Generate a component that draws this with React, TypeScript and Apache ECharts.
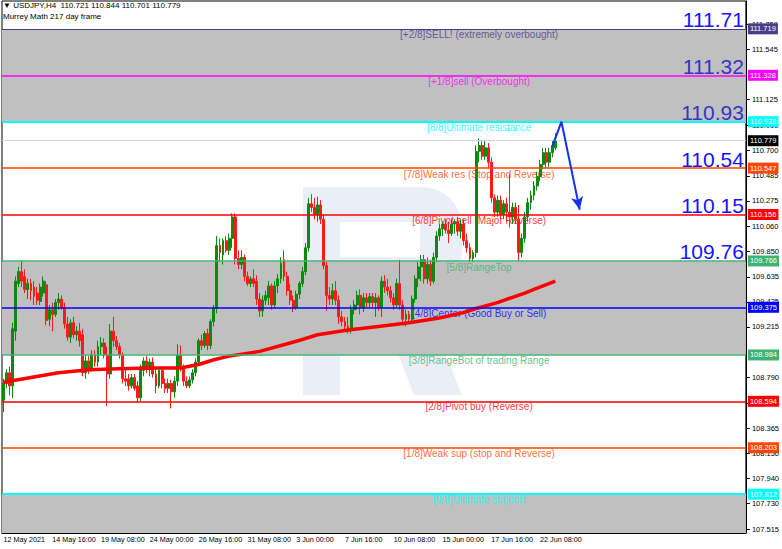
import React, { useEffect, useRef } from "react";
import * as echarts from "echarts";

// ---------- data ----------
const xTickLabels = [
  "12 May 2021", "14 May 16:00", "19 May 08:00", "24 May 00:00", "26 May 16:00", "31 May 08:00",
  "3 Jun 00:00", "7 Jun 16:00", "10 Jun 08:00", "15 Jun 00:00", "17 Jun 16:00", "22 Jun 08:00",
];
const BARS_PER_TICK = 16;
const SLOT_COUNT = 244;

const yTickValues = [
  111.759, 111.545, 111.125, 110.91, 110.7, 110.485, 110.275, 110.06, 109.85, 109.635,
  109.425, 109.215, 108.79, 108.575, 108.365, 108.15, 107.94, 107.73, 107.515,
];
const Y_MIN = 107.484;
const Y_MAX = 111.954;

// open, high, low, close
const candlesOHLC: number[][] = [
  [108.60,108.78,108.50,108.74],[108.74,108.86,108.70,108.83],[108.83,108.88,108.64,108.72],[108.72,109.25,108.62,109.20],
  [109.18,109.64,109.10,109.60],[109.58,109.72,109.55,109.68],[109.68,109.77,109.55,109.60],[109.64,109.70,109.50,109.53],
  [109.53,109.62,109.45,109.58],[109.58,109.62,109.44,109.52],[109.55,109.60,109.40,109.47],[109.50,109.55,109.40,109.44],
  [109.43,109.58,109.40,109.55],[109.50,109.64,109.47,109.60],[109.57,109.60,109.23,109.27],[109.28,109.40,109.22,109.36],
  [109.36,109.42,109.18,109.32],[109.32,109.45,109.30,109.42],[109.42,109.50,109.36,109.45],[109.45,109.48,109.36,109.38],
  [109.38,109.42,109.20,109.24],[109.24,109.30,109.10,109.13],[109.13,109.28,109.08,109.25],[109.25,109.30,109.12,109.15],
  [109.15,109.22,109.10,109.18],[109.18,109.25,109.05,109.10],[109.15,109.20,108.80,108.83],[108.83,108.98,108.78,108.93],
  [108.93,108.97,108.82,108.86],[108.86,109.02,108.84,108.98],[108.98,109.02,108.88,108.92],[108.92,109.10,108.88,109.05],
  [109.05,109.13,108.98,109.08],[109.08,109.12,108.95,108.98],[108.98,109.05,108.55,108.82],[108.82,109.24,108.78,109.18],
  [109.18,109.30,109.05,109.10],[109.10,109.14,109.02,109.05],[109.05,109.08,108.95,108.98],[108.98,109.00,108.74,108.78],
  [108.78,108.86,108.72,108.76],[108.78,108.82,108.68,108.72],[108.72,108.82,108.70,108.79],[108.79,108.82,108.68,108.70],
  [108.72,108.76,108.58,108.62],[108.62,108.90,108.59,108.88],[108.85,108.96,108.80,108.93],[108.93,108.97,108.83,108.86],
  [108.86,108.95,108.80,108.92],[108.92,108.96,108.79,108.82],[108.82,108.86,108.66,108.72],[108.72,108.88,108.70,108.85],
  [108.85,108.87,108.70,108.74],[108.74,108.78,108.66,108.70],[108.70,108.78,108.66,108.74],[108.74,108.77,108.53,108.67],
  [108.67,108.80,108.62,108.76],[108.76,109.07,108.72,108.98],[108.98,109.06,108.84,108.88],[108.88,108.90,108.72,108.76],
  [108.76,108.80,108.70,108.72],[108.72,108.80,108.70,108.77],[108.77,108.86,108.74,108.83],[108.83,108.95,108.80,108.92],
  [108.92,109.12,108.90,109.10],[109.10,109.15,109.02,109.06],[109.06,109.18,109.04,109.16],[109.16,109.20,109.02,109.06],
  [109.06,109.28,109.03,109.26],[109.26,109.40,109.22,109.37],[109.37,109.98,109.33,109.90],[109.90,109.96,109.76,109.84],
  [109.82,109.96,109.74,109.94],[109.94,109.98,109.84,109.86],[109.86,110.00,109.82,109.96],[109.96,110.17,109.88,110.14],
  [110.14,110.17,109.74,109.79],[109.79,109.86,109.70,109.74],[109.74,109.86,109.70,109.80],[109.80,109.82,109.60,109.64],
  [109.64,109.68,109.56,109.58],[109.58,109.64,109.55,109.62],[109.62,109.70,109.55,109.58],[109.60,109.65,109.40,109.45],
  [109.45,109.50,109.30,109.35],[109.35,109.48,109.30,109.44],[109.44,109.52,109.40,109.48],[109.46,109.60,109.40,109.56],
  [109.56,109.58,109.36,109.40],[109.40,109.60,109.38,109.56],[109.56,109.66,109.50,109.62],[109.62,109.80,109.58,109.75],
  [109.78,109.86,109.60,109.64],[109.64,109.68,109.48,109.52],[109.52,109.58,109.40,109.44],[109.44,109.48,109.34,109.38],
  [109.38,109.52,109.36,109.49],[109.49,109.60,109.45,109.58],[109.58,109.72,109.55,109.68],[109.68,109.92,109.65,109.88],
  [109.88,110.30,109.85,110.25],[110.25,110.33,110.18,110.22],[110.22,110.30,110.12,110.16],[110.16,110.31,110.10,110.24],
  [110.24,110.28,110.08,110.12],[110.12,110.16,109.70,109.73],[109.73,109.76,109.35,109.48],[109.48,109.55,109.40,109.45],
  [109.45,109.58,109.40,109.52],[109.52,109.60,109.40,109.44],[109.44,109.48,109.24,109.30],[109.30,109.35,109.22,109.26],
  [109.26,109.30,109.18,109.22],[109.22,109.30,109.16,109.20],[109.20,109.40,109.16,109.36],[109.36,109.44,109.32,109.40],
  [109.40,109.52,109.36,109.48],[109.48,109.53,109.32,109.38],[109.38,109.50,109.34,109.46],[109.46,109.50,109.38,109.42],
  [109.42,109.50,109.38,109.47],[109.47,109.50,109.38,109.42],[109.42,109.50,109.30,109.46],[109.46,109.48,109.35,109.38],
  [109.38,109.64,109.30,109.60],[109.60,109.65,109.50,109.55],[109.55,109.62,109.48,109.52],[109.52,109.56,109.42,109.46],
  [109.46,109.50,109.36,109.40],[109.40,109.62,109.38,109.58],[109.58,109.78,109.36,109.40],[109.40,109.44,109.24,109.28],
  [109.28,109.36,109.22,109.32],[109.32,109.35,109.24,109.28],[109.28,109.48,109.26,109.45],[109.45,109.65,109.42,109.62],
  [109.62,109.76,109.55,109.72],[109.72,109.82,109.60,109.78],[109.78,109.82,109.58,109.62],[109.62,109.80,109.58,109.74],
  [109.74,109.78,109.56,109.60],[109.60,109.84,109.58,109.80],[109.80,110.02,109.76,109.98],[109.98,110.08,109.94,110.04],
  [110.04,110.10,109.98,110.08],[110.08,110.12,110.00,110.03],[110.03,110.10,109.92,110.00],[110.00,110.12,109.98,110.08],
  [110.08,110.12,110.00,110.10],[110.10,110.14,109.98,110.02],[110.02,110.12,109.96,110.08],[110.08,110.12,109.90,109.94],
  [109.94,110.00,109.84,109.88],[109.88,109.92,109.76,109.79],[109.79,109.86,109.76,109.84],[109.84,110.74,109.80,110.69],
  [110.69,110.80,110.60,110.74],[110.74,110.78,110.62,110.65],[110.65,110.78,110.62,110.72],[110.72,110.76,110.55,110.60],
  [110.60,110.64,110.26,110.30],[110.30,110.33,110.14,110.18],[110.18,110.32,110.14,110.28],[110.28,110.32,110.12,110.16],
  [110.16,110.28,110.12,110.25],[110.25,110.30,110.10,110.18],[110.18,110.50,110.05,110.14],[110.14,110.26,110.08,110.22],
  [110.22,110.26,110.08,110.12],[110.12,110.24,109.77,109.84],[109.84,110.00,109.80,109.96],[109.96,110.18,109.92,110.14],
  [110.14,110.30,110.10,110.26],[110.26,110.36,110.20,110.32],[110.32,110.44,110.28,110.40],[110.40,110.52,110.36,110.48],
  [110.48,110.62,110.44,110.58],[110.58,110.72,110.54,110.68],[110.68,110.72,110.55,110.60],[110.60,110.72,110.56,110.68],
  [110.68,110.78,110.64,110.74],[110.721,110.844,110.701,110.779],
];

// 217-period moving average readings: [bar index, value]
const maPoints: number[][] = [
  [0,108.75],[9,108.79],[18,108.83],[28,108.855],[38,108.865],[48,108.87],[58,108.87],[64,108.90],[69,108.94],
  [74,108.97],[84,109.01],[94,109.08],[98,109.11],[103,109.15],[113,109.19],[123,109.22],[133,109.25],[143,109.29],
  [150,109.33],[155,109.37],[162,109.42],[171,109.50],[174,109.53],[181,109.60],
];

const levelValues = [111.719, 111.328, 110.938, 110.547, 110.156, 109.766, 109.375, 108.984, 108.594, 108.203, 107.812];
const levelNames = [
  "[+2/8]SELL! (extremely overbought)", "[+1/8]sell (Overbought)", "[8/8]Ultimate resistance",
  "[7/8]Weak res (Stop and Reverse)", "[6/8]Pivot sell (Major Reverse)", "[5/8]RangeTop",
  "[4/8]Center (Good Buy or Sell)", "[3/8]RangeBot of trading Range", "[2/8]Pivot buy (Reverse)",
  "[1/8]Weak sup (stop and Reverse)", "[0/8]Ultimate support",
];
const bigLevelLabels = ["111.71", "111.32", "110.93", "110.54", "110.15", "109.76"];
const grayZones = [[111.719, 110.938], [109.766, 108.984], [107.812, Y_MIN]];
const currentPrice = 110.779;
const LEVEL_TEXT_BAR = 156;
const arrowPath: number[][] = [[180, 110.73], [183, 110.94], [189.4, 110.2]];

// ---------- styles ----------
const levelColors = ["#483D8B", "#FF00FF", "#00FFFF", "#FF4500", "#FF0000", "#3CB371", "#0000FF", "#3CB371", "#FF0000", "#FF4500", "#00FFFF"];
const levelWidths = [1, 1.5, 2, 1.5, 1.5, 1.5, 1.5, 1.5, 1.5, 1.5, 2];
const UP = "#0b8a0b";
const DOWN = "#ff1a1a";
const FONT = "'Liberation Sans', Arial, sans-serif";

export default function App() {
  const ref = useRef<HTMLDivElement>(null);
  useEffect(() => {
    document.body.style.margin = "0";
    if (!ref.current) return;
    const chart = echarts.init(ref.current, undefined, { renderer: "svg" });

    const slots = Array.from({ length: SLOT_COUNT }, (_, i) => String(i));
    const tickInterval = (index: number) =>
      index % BARS_PER_TICK === 0 && index / BARS_PER_TICK < xTickLabels.length;

    const tagLabel = (text: string, bg: string) => ({
      show: true,
      position: "end",
      distance: 2,
      formatter: text,
      backgroundColor: bg,
      color: "#fff",
      fontSize: 7.5,
      fontFamily: FONT,
      padding: [2, 2, 1, 2],
    });

    const levelLines = levelValues.map((v, i) => ({
      yAxis: v,
      lineStyle: { color: levelColors[i], width: levelWidths[i], type: "solid" },
      label: tagLabel(v.toFixed(3), levelColors[i]),
    }));
    const bigLines = bigLevelLabels.map((t, i) => ({
      yAxis: levelValues[i],
      lineStyle: { color: "rgba(0,0,0,0)", width: 1 },
      label: {
        show: true,
        position: "insideEndTop",
        distance: [2, 1],
        formatter: t,
        color: i === 1 || i === 2 ? "#3535c8" : "#1414ff",
        fontSize: 21,
        lineHeight: 16,
        fontFamily: FONT,
      },
    }));
    const priceLine = {
      yAxis: currentPrice,
      lineStyle: { color: "#d4d4d4", width: 1, type: "solid" },
      label: tagLabel(currentPrice.toFixed(3), "#000"),
    };

    const wm = "rgba(150,170,215,0.2)";
    const option: any = {
      animation: false,
      backgroundColor: "#ffffff",
      textStyle: { fontFamily: FONT },
      grid: { left: 2, right: 33, top: 1, bottom: 16, show: true, borderColor: "#000", borderWidth: 1, backgroundColor: "transparent" },
      graphic: [
        {
          type: "group",
          z: 1,
          silent: true,
          children: [
            { type: "rect", shape: { x: 303, y: 187, width: 37, height: 208 }, style: { fill: wm } },
            { type: "rect", shape: { x: 340, y: 187, width: 80, height: 35 }, style: { fill: wm } },
            { type: "rect", shape: { x: 420, y: 187, width: 42, height: 105, r: [0, 40, 40, 0] }, style: { fill: wm } },
            { type: "rect", shape: { x: 340, y: 257, width: 80, height: 35 }, style: { fill: wm } },
            { type: "polygon", shape: { points: [[374, 292], [420, 292], [462, 395], [414, 395]] }, style: { fill: wm } },
          ],
        },
        {
          type: "text",
          left: 3,
          top: 1,
          z: 10,
          style: { text: "▼ USDJPY,H4  110.721 110.844 110.701 110.779", fill: "#000", font: `8px ${FONT}` },
        },
        {
          type: "text",
          left: 3,
          top: 12,
          z: 10,
          style: { text: "Murrey Math 217 day frame", fill: "#000", font: `8px ${FONT}` },
        },
      ],
      xAxis: {
        type: "category",
        data: slots,
        boundaryGap: true,
        axisLine: { lineStyle: { color: "#000" } },
        axisTick: { interval: tickInterval, alignWithLabel: true, length: 4, lineStyle: { color: "#000" } },
        axisLabel: {
          interval: tickInterval,
          formatter: (_v: string, idx: number) => xTickLabels[idx / BARS_PER_TICK] ?? "",
          align: "left",
          fontSize: 7.2,
          color: "#000",
          margin: 3,
        },
        splitLine: { show: false },
      },
      yAxis: {
        type: "value",
        position: "right",
        min: Y_MIN,
        max: Y_MAX,
        axisLine: { show: true, lineStyle: { color: "#000" } },
        axisTick: { show: true, length: 4, customValues: yTickValues, lineStyle: { color: "#000" } },
        axisLabel: { customValues: yTickValues, formatter: (v: number) => v.toFixed(3), fontSize: 7.5, color: "#000", margin: 6 },
        splitLine: { show: false },
      },
      series: [
        {
          type: "line",
          z: 0,
          data: [],
          silent: true,
          markArea: {
            silent: true,
            itemStyle: { color: "#c0c0c0" },
            data: grayZones.map(([a, b]) => [{ yAxis: a }, { yAxis: b }]),
          },
        },
        {
          type: "line",
          z: 2,
          data: [],
          silent: true,
          markLine: {
            silent: true,
            symbol: "none",
            animation: false,
            data: [priceLine, ...levelLines, ...bigLines],
          },
        },
        {
          type: "scatter",
          z: 2,
          symbolSize: 0,
          silent: true,
          data: levelValues.map((v, i) => ({
            value: [LEVEL_TEXT_BAR, v],
            label: { show: true, position: "bottom", distance: 1, formatter: levelNames[i], color: levelColors[i], fontSize: 10 },
          })),
        },
        {
          type: "candlestick",
          z: 3,
          barWidth: 2.4,
          data: candlesOHLC.map(([o, h, l, c]) => [o, c, l, h]),
          itemStyle: { color: UP, color0: DOWN, borderColor: UP, borderColor0: DOWN, borderWidth: 1 },
        },
        {
          type: "line",
          z: 4,
          data: maPoints,
          symbol: "none",
          lineStyle: { color: "#ff0000", width: 3.5 },
          silent: true,
        },
        {
          type: "line",
          z: 5,
          data: [],
          silent: true,
          markLine: {
            silent: true,
            animation: false,
            lineStyle: { color: "#1433e6", width: 2, type: "solid" },
            label: { show: false },
            data: [
              [{ coord: arrowPath[0], symbol: "none" }, { coord: arrowPath[1], symbol: "none" }],
              [{ coord: arrowPath[1], symbol: "none" }, { coord: arrowPath[2], symbol: "arrow", symbolSize: [9, 13] }],
            ],
          },
        },
      ],
    };
    chart.setOption(option);
    return () => chart.dispose();
  }, []);
  return <div ref={ref} style={{ position: "absolute", left: 0, top: 0, width: 782, height: 549 }} />;
}
